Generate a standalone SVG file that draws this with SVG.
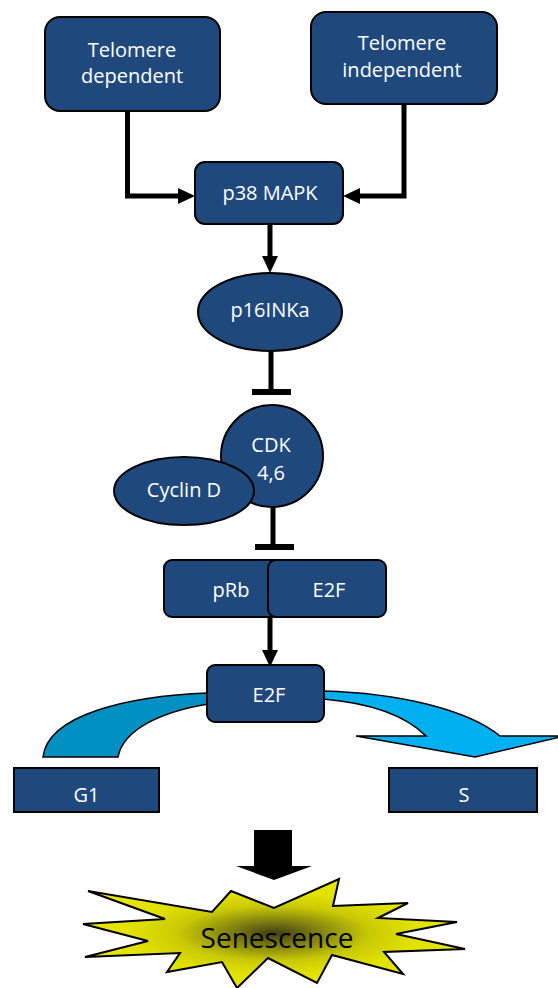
<svg xmlns="http://www.w3.org/2000/svg" width="558" height="988" viewBox="0 0 558 988">
  <style>
    .node { fill: #1F497D; stroke: #000; stroke-width: 2; }
    .lbl { font-family: "Open Sans", "Liberation Sans", sans-serif; font-size: 20px; fill: #fff; text-anchor: middle; }
    .wire { stroke: #000; stroke-width: 5; fill: none; }
    .bar { fill: #000; }
  </style>
  <defs>
    <marker id="head" markerWidth="17" markerHeight="16" refX="0" refY="8" orient="auto" markerUnits="userSpaceOnUse">
      <path d="M0,0 L17,8 L0,16 Z" fill="#000"/>
    </marker>
    <radialGradient id="burst" cx="0.5" cy="0.5" r="0.5">
      <stop offset="0" stop-color="#3f3f14"/>
      <stop offset="0.25" stop-color="#85850f"/>
      <stop offset="0.5" stop-color="#c9c905"/>
      <stop offset="0.75" stop-color="#e2e200"/>
      <stop offset="1" stop-color="#e6e60a"/>
    </radialGradient>
  </defs>

  <!-- connectors -->
  <g id="connectors">
    <polyline class="wire" points="127.5,111 127.5,196 178,196" marker-end="url(#head)"/>
    <polyline class="wire" points="404,104 404,196 360,196" marker-end="url(#head)"/>
    <line class="wire" x1="270" y1="224" x2="270" y2="256" marker-end="url(#head)"/>
    <line class="wire" x1="271" y1="351" x2="271" y2="390"/>
    <rect class="bar" x="252" y="389" width="39" height="6"/>
    <line class="wire" x1="273" y1="507" x2="273" y2="545"/>
    <rect class="bar" x="255" y="544" width="39" height="6"/>
    <line class="wire" x1="270" y1="617" x2="270" y2="650" marker-end="url(#head)"/>
    <!-- curved block arrows from E2F -->
    <path d="M208,693 C130,696 48,714 43,757 L118,757 C123,730 160,712 208,704 Z" fill="#0090C2" stroke="#000" stroke-width="1.5"/>
    <path d="M323,691 C400,693 468,710 500,736 L564,736 L475,757 L356,736 L426,736 C405,715 370,703 323,699 Z" fill="#00B0F0" stroke="#000" stroke-width="1.5"/>
    <!-- block arrow to senescence -->
    <polygon points="254,830 292,830 292,866 312,866 274,880 236,866 254,866" fill="#000"/>
  </g>

  <g id="telomere-dependent">
    <rect class="node" x="45" y="17" width="175" height="94" rx="15"/>
    <text class="lbl" x="132" y="57">Telomere</text>
    <text class="lbl" x="132" y="83">dependent</text>
  </g>
  <g id="telomere-independent">
    <rect class="node" x="311" y="12" width="186" height="92" rx="15"/>
    <text class="lbl" x="402" y="50">Telomere</text>
    <text class="lbl" x="402" y="77">independent</text>
  </g>
  <g id="p38-mapk">
    <rect class="node" x="195" y="162" width="148" height="62" rx="10"/>
    <text class="lbl" x="270" y="200">p38 MAPK</text>
  </g>
  <g id="p16inka">
    <ellipse class="node" cx="270" cy="312" rx="72" ry="39"/>
    <text class="lbl" x="270" y="317">p16INKa</text>
  </g>
  <g id="cdk46">
    <circle class="node" cx="272" cy="456" r="51"/>
    <text class="lbl" x="271" y="452">CDK</text>
    <text class="lbl" x="271" y="480">4,6</text>
  </g>
  <g id="cyclin-d">
    <ellipse class="node" cx="184" cy="491" rx="70" ry="34"/>
    <text class="lbl" x="184" y="497">Cyclin D</text>
  </g>
  <g id="prb">
    <rect class="node" x="164" y="560" width="123" height="57" rx="8"/>
    <text class="lbl" x="231" y="597">pRb</text>
  </g>
  <g id="e2f-bound">
    <rect class="node" x="268" y="560" width="118" height="57" rx="8"/>
    <text class="lbl" x="329" y="597">E2F</text>
  </g>
  <g id="e2f-free">
    <rect class="node" x="207" y="665" width="117" height="57" rx="8"/>
    <text class="lbl" x="269" y="702">E2F</text>
  </g>
  <g id="g1">
    <rect class="node" x="14" y="768" width="145" height="44"/>
    <text class="lbl" x="86.5" y="802">G1</text>
  </g>
  <g id="s-phase">
    <rect class="node" x="389" y="768" width="148" height="44"/>
    <text class="lbl" x="464" y="802">S</text>
  </g>
  <g id="senescence">
    <polygon points="88,891 212,912 231,891 274,908 339,879 333,906 408,903 378,918 457,922 396,934 465,949 384,952 403,974 332,955 317,983 268,958 237,988 222,962 167,972 180,953 85,957 148,941 83,924 165,919" fill="url(#burst)" stroke="#000" stroke-width="2" stroke-linejoin="miter"/>
    <text x="277" y="948" font-family="'Open Sans', 'Liberation Sans', sans-serif" font-size="28" fill="#000" text-anchor="middle">Senescence</text>
  </g>
</svg>
